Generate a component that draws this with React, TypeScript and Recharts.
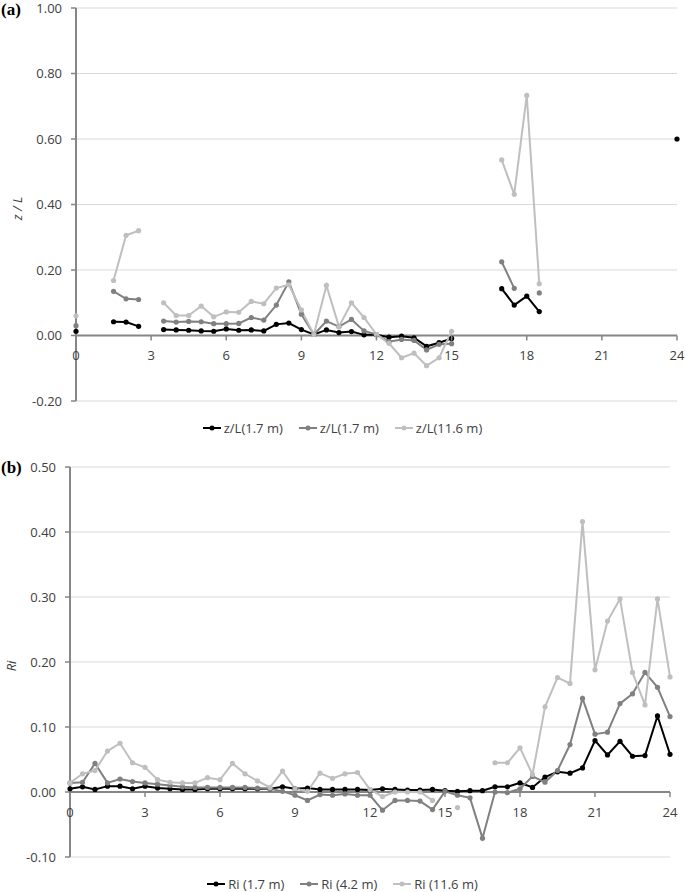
import React from 'react';
import { LineChart, Line, XAxis, YAxis, CartesianGrid, ReferenceLine, Legend } from 'recharts';

// ---------- data ----------
const hours = [
  0, 0.5, 1, 1.5, 2, 2.5, 3, 3.5, 4, 4.5, 5, 5.5, 6, 6.5, 7, 7.5, 8, 8.5, 9, 9.5,
  10, 10.5, 11, 11.5, 12, 12.5, 13, 13.5, 14, 14.5, 15, 15.5, 16, 16.5, 17, 17.5,
  18, 18.5, 19, 19.5, 20, 20.5, 21, 21.5, 22, 22.5, 23, 23.5, 24,
];
const hourTicks = [0, 3, 6, 9, 12, 15, 18, 21, 24];

const zlTicks = [-0.2, 0, 0.2, 0.4, 0.6, 0.8, 1.0];
const riTicks = [-0.1, 0, 0.1, 0.2, 0.3, 0.4, 0.5];

const zlNames = ['z/L(1.7 m)', 'z/L(1.7 m)', 'z/L(11.6 m)'];
const riNames = ['Ri (1.7 m)', 'Ri (4.2 m)', 'Ri (11.6 m)'];

// z/L at 1.7 m (black)
const zlA = [
  0.013, null, null, 0.042, 0.041, 0.028, null, 0.018, 0.017, 0.016, 0.014, 0.013, 0.020, 0.016, 0.017, 0.014, 0.034, 0.038, 0.018, 0.003,
  0.017, 0.009, 0.012, 0.002, 0.002, -0.005, -0.002, -0.007, -0.033, -0.022, -0.009, null, null, null, 0.143, 0.093,
  0.120, 0.073, null, null, null, null, null, null, null, null, null, null, 0.600,
];
// z/L second series (dark gray)
const zlB = [
  0.030, null, null, 0.135, 0.112, 0.110, null, 0.044, 0.041, 0.043, 0.042, 0.036, 0.036, 0.037, 0.055, 0.047, 0.093, 0.164, 0.065, 0.003,
  0.044, 0.027, 0.049, 0.014, 0.003, -0.019, -0.012, -0.015, -0.044, -0.027, -0.025, null, null, null, 0.225, 0.144,
  null, 0.130, null, null, null, null, null, null, null, null, null, null, null,
];
// z/L at 11.6 m (light gray)
const zlC = [
  0.060, null, null, 0.168, 0.306, 0.320, null, 0.100, 0.061, 0.061, 0.090, 0.057, 0.072, 0.071, 0.104, 0.097, 0.145, 0.155, 0.078, 0.003,
  0.153, 0.027, 0.100, 0.055, 0.003, -0.024, -0.068, -0.054, -0.092, -0.068, 0.013, null, null, null, 0.536, 0.431,
  0.733, 0.158, null, null, null, null, null, null, null, null, null, null, null,
];

// Ri at 1.7 m
const riA = [
  0.005, 0.008, 0.004, 0.009, 0.009, 0.005, 0.009, 0.006, 0.005, 0.004, 0.004, 0.005, 0.005, 0.005, 0.005, 0.005, 0.005, 0.008, 0.005, 0.006,
  0.004, 0.004, 0.004, 0.004, 0.003, 0.005, 0.004, 0.003, 0.003, 0.004, 0.002, 0.001, 0.002, 0.002, 0.008, 0.008,
  0.014, 0.007, 0.023, 0.031, 0.029, 0.037, 0.079, 0.057, 0.078, 0.055, 0.056, 0.117, 0.058,
];
// Ri at 4.2 m
const riB = [
  0.014, 0.015, 0.044, 0.014, 0.020, 0.016, 0.014, 0.012, 0.010, 0.008, 0.007, 0.007, 0.007, 0.007, 0.007, 0.006, 0.005, 0.001, -0.005, -0.013,
  -0.004, -0.005, -0.003, -0.005, -0.005, -0.028, -0.013, -0.013, -0.014, -0.027, 0.001, -0.005, -0.009, -0.071, 0.000, -0.001,
  0.005, 0.024, 0.015, 0.033, 0.073, 0.144, 0.089, 0.092, 0.136, 0.151, 0.184, 0.161, 0.116,
];
// Ri at 11.6 m
const riC = [
  0.014, 0.028, 0.033, 0.063, 0.075, 0.045, 0.038, 0.019, 0.015, 0.014, 0.014, 0.022, 0.019, 0.044, 0.028, 0.017, 0.007, 0.032, 0.005, 0.001,
  0.029, 0.021, 0.028, 0.030, 0.004, -0.007, 0.000, 0.000, 0.000, -0.013, null, -0.024, null, null, 0.045, 0.045,
  0.068, 0.027, 0.131, 0.176, 0.167, 0.416, 0.188, 0.263, 0.297, 0.184, 0.134, 0.297, 0.177,
];

const zlRows = hours.map((h, i) => ({ hour: h, a: zlA[i], b: zlB[i], c: zlC[i] }));
const riRows = hours.map((h, i) => ({ hour: h, a: riA[i], b: riB[i], c: riC[i] }));

// ---------- styles ----------
const FONT = '"Open Sans", "Liberation Sans", sans-serif';
const TEXT = '#404040';
const AXIS = '#868686';
const GRID = '#d9d9d9';
const COLORS = ['#000000', '#808080', '#bfbfbf'];
const KEYS = ['a', 'b', 'c'];

const W = 685;

type Geo = {
  height: number;
  margin: { top: number; right: number; bottom: number; left: number };
  yWidth: number;
  xHeight: number;
  domain: [number, number];
};

const GEO_A: Geo = { height: 445, margin: { top: 8, right: 8, bottom: 14, left: 0 }, yWidth: 76, xHeight: 30, domain: [-0.2, 1.0] };
const GEO_B: Geo = { height: 447, margin: { top: 22, right: 15, bottom: 5, left: 0 }, yWidth: 70, xHeight: 30, domain: [-0.1, 0.5] };

const zeroShift = (g: Geo) => {
  const plotH = g.height - g.margin.top - g.margin.bottom - g.xHeight;
  return (plotH * (0 - g.domain[0])) / (g.domain[1] - g.domain[0]);
};

const makeXTick = (g: Geo) => (props: any) => {
  const { x, y, payload } = props;
  const zy = y - zeroShift(g);
  return (
    <g>
      <line x1={x} x2={x} y1={zy} y2={zy + 5} stroke={AXIS} strokeWidth={1.5} />
      <text x={x} y={zy + 20} dy="0.35em" textAnchor="middle" fontFamily={FONT} fontSize={13} fill={TEXT}>
        {payload.value}
      </text>
    </g>
  );
};

const makeYLabel = (label: string, dx: number) => (props: any) => {
  const vb = props.viewBox || {};
  const cx = (vb.x || 0) + dx;
  const cy = (vb.y || 0) + (vb.height || 0) / 2 + 4;
  return (
    <text
      x={cx}
      y={cy}
      transform={`rotate(-90, ${cx}, ${cy})`}
      textAnchor="middle"
      dominantBaseline="central"
      fontFamily={FONT}
      fontSize={13}
      fontStyle="italic"
      fill={TEXT}
    >
      {label}
    </text>
  );
};

const LegendContent = (props: any) => {
  const items = [...(props.payload || [])].sort(
    (p: any, q: any) => KEYS.indexOf(String(p.dataKey)) - KEYS.indexOf(String(q.dataKey))
  );
  return (
    <div style={{ display: 'flex', justifyContent: 'center', fontFamily: FONT, fontSize: 13, color: TEXT }}>
      {items.map((it: any, i: number) => (
        <span key={i} style={{ display: 'inline-flex', alignItems: 'center', marginLeft: i === 0 ? 0 : 16 }}>
          <svg width={18} height={10} style={{ marginRight: 3 }}>
            <line x1={0} y1={5} x2={18} y2={5} stroke={it.color} strokeWidth={2} />
            <circle cx={9} cy={5} r={2.5} fill={it.color} />
          </svg>
          <span>{it.value}</span>
        </span>
      ))}
    </div>
  );
};

type PanelProps = {
  rows: any[];
  geo: Geo;
  ticks: number[];
  names: string[];
  yLabel: string;
  yLabelDx: number;
  legendTop: number;
};

const Panel = ({ rows, geo, ticks, names, yLabel, yLabelDx, legendTop }: PanelProps) => (
  <LineChart width={W} height={geo.height} data={rows} margin={geo.margin}>
    <CartesianGrid vertical={false} stroke={GRID} strokeWidth={1} />
    <XAxis
      dataKey="hour"
      type="number"
      domain={[0, 24]}
      ticks={hourTicks}
      height={geo.xHeight}
      axisLine={false}
      tickLine={false}
      tickSize={0}
      tickMargin={0}
      interval={0}
      tick={makeXTick(geo)}
    />
    <YAxis
      type="number"
      domain={geo.domain}
      ticks={ticks}
      width={geo.yWidth}
      interval={0}
      axisLine={{ stroke: AXIS, strokeWidth: 2 }}
      tickLine={{ stroke: AXIS, strokeWidth: 1.5 }}
      tickSize={5}
      tickMargin={9}
      tickFormatter={(v: number) => v.toFixed(2)}
      tick={{ fontFamily: FONT, fontSize: 13, fill: TEXT }}
      label={{ content: makeYLabel(yLabel, yLabelDx) } as any}
    />
    <ReferenceLine y={0} stroke={AXIS} strokeWidth={2} />
    {KEYS.map((k, i) => (
      <Line
        key={k}
        dataKey={k}
        name={names[i]}
        stroke={COLORS[i]}
        strokeWidth={2}
        dot={{ r: 2.6, fill: COLORS[i], stroke: COLORS[i], strokeWidth: 0 }}
        activeDot={false}
        connectNulls={false}
        isAnimationActive={false}
      />
    ))}
    <Legend
      verticalAlign="middle"
      align="center"
      layout="horizontal"
      itemSorter={null as any}
      wrapperStyle={{ top: legendTop, left: 0, width: W }}
      content={LegendContent}
    />
  </LineChart>
);

const tagStyle = (top: number): React.CSSProperties => ({
  position: 'absolute',
  left: 1,
  top,
  fontFamily: '"Liberation Serif", "Times New Roman", serif',
  fontWeight: 'bold',
  fontSize: 17,
  lineHeight: '17px',
  color: '#000',
});

export default function App() {
  return (
    <div style={{ position: 'absolute', left: 0, top: 0, width: W, height: 892, background: '#fff' }}>
      <div style={{ position: 'absolute', left: 0, top: 0 }}>
        <Panel rows={zlRows} geo={GEO_A} ticks={zlTicks} names={zlNames} yLabel="z / L" yLabelDx={17} legendTop={419} />
      </div>
      <div style={{ position: 'absolute', left: 0, top: 445 }}>
        <Panel rows={riRows} geo={GEO_B} ticks={riTicks} names={riNames} yLabel="Ri" yLabelDx={11} legendTop={430} />
      </div>
      <div style={tagStyle(1)}>(a)</div>
      <div style={tagStyle(459)}>(b)</div>
    </div>
  );
}
